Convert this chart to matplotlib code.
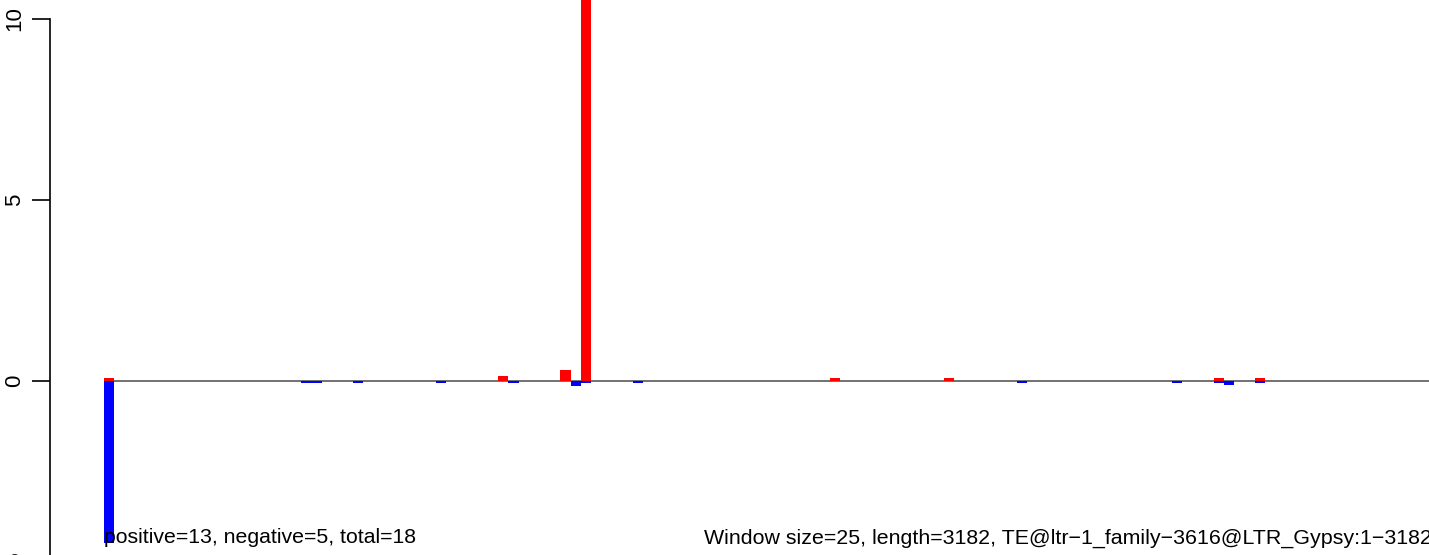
import matplotlib
matplotlib.use("Agg")
import matplotlib.pyplot as plt

# Data: window indices (window size 25 bp) and signal values
n_windows = 128
pos_idx = [0, 38, 44, 46, 70, 81, 107, 111]
pos_vals = [0.06, 0.13, 0.29, 12.0, 0.06, 0.06, 0.06, 0.06]
neg_idx = [0, 19, 20, 24, 32, 39, 45, 46, 51, 88, 103, 107, 108, 111]
neg_vals = [-4.5, -0.06, -0.06, -0.06, -0.06, -0.06, -0.14, -0.06, -0.06,
            -0.06, -0.06, -0.06, -0.13, -0.06]
yticks = [-5, 0, 5, 10]
left_text = "positive=13, negative=5, total=18"
right_text = "Window size=25, length=3182, TE@ltr\u22121_family\u22123616@LTR_Gypsy:1\u22123182"

plt.rcParams['font.family'] = ['Liberation Sans', 'DejaVu Sans']

W, H = 1429, 555
fig = plt.figure(figsize=(W / 100, H / 100), dpi=100)

px_per_win = 10.37
x0_px = 104.0
ax_left_px = 50.0
ax_right_px = 1429.0
zero_px = 380.5
px_per_unit = 36.2
ax_top_px = 0.0
ax_bot_px = 572.0

ax = fig.add_axes([ax_left_px / W, 1 - ax_bot_px / H,
                   (ax_right_px - ax_left_px) / W, (ax_bot_px - ax_top_px) / H])
ax.set_xlim(-(x0_px - ax_left_px) / px_per_win, (ax_right_px - x0_px) / px_per_win)
ax.set_ylim(-(ax_bot_px - zero_px) / px_per_unit, (zero_px - ax_top_px) / px_per_unit)

ax.hlines(0, 0, n_windows, color='#666666', lw=1.3, zorder=1)
ax.bar(pos_idx, pos_vals, width=1, align='edge', color='#ff0000', lw=0, zorder=2)
ax.bar(neg_idx, neg_vals, width=1, align='edge', color='#0000ff', lw=0, zorder=2)

for s in ['top', 'right', 'bottom']:
    ax.spines[s].set_visible(False)
ax.spines['left'].set_bounds(-5, 10)
ax.spines['left'].set_linewidth(1.2)
ax.set_xticks([])
ax.set_yticks(yticks)
ax.set_yticklabels([str(v) for v in yticks], rotation=90, va='center', fontsize=16)
ax.tick_params(axis='y', length=13, width=1.2, pad=5)

ax.text(0, -4.5, left_text, ha='left', va='baseline', fontsize=15.3, zorder=3)
ax.text(1432 / W, (H - 544) / H, right_text, transform=fig.transFigure,
        ha='right', va='baseline', fontsize=15.4)

fig.savefig("out.png", dpi=100)
